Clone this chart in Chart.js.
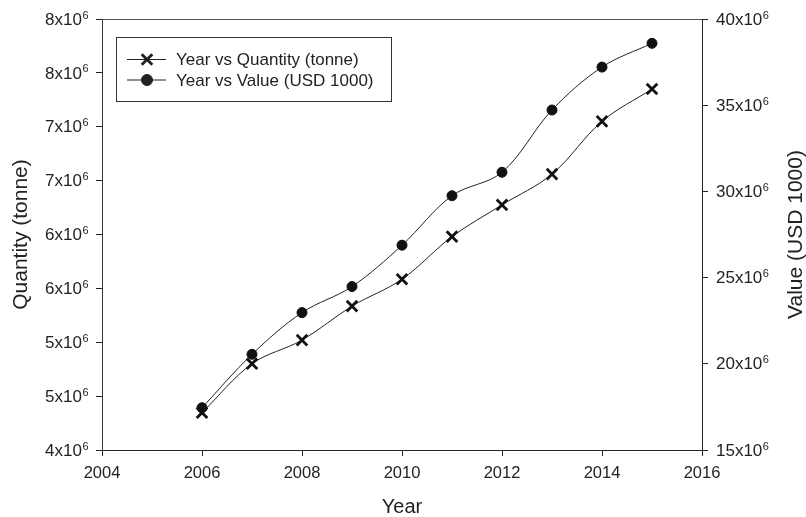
<!DOCTYPE html>
<html>
<head>
<meta charset="utf-8">
<script src="https://cdn.jsdelivr.net/npm/chart.js@4.4.1/dist/chart.umd.min.js"></script>
<style>
    html, body { margin: 0; padding: 0; background: #fff; }
    #wrap { width: 806px; height: 517px; position: relative; }
</style>
</head>
<body>
<div id="wrap"><canvas id="chart"></canvas></div>
<script>
// 数据
const years = [2006, 2007, 2008, 2009, 2010, 2011, 2012, 2013, 2014, 2015];
const quantity = [4.346e6, 4.80e6, 5.02e6, 5.335e6, 5.585e6, 5.98e6, 6.275e6, 6.56e6, 7.05e6, 7.35e6];
const value = [17.45e6, 20.55e6, 22.97e6, 24.48e6, 26.88e6, 29.75e6, 31.11e6, 34.72e6, 37.21e6, 38.59e6];

const xTickLabels = ['2004', '2006', '2008', '2010', '2012', '2014', '2016'];
// 刻度标签: 底数 + 上标指数
const leftTickLabels = ['4x10', '5x10', '5x10', '6x10', '6x10', '7x10', '7x10', '8x10', '8x10'];
const rightTickLabels = ['15x10', '20x10', '25x10', '30x10', '35x10', '40x10'];
const tickExponent = '6';

const FONT = '"Liberation Sans", Arial, sans-serif';
const INK = '#222';

// 带上标的 y 轴刻度标签
function drawSciTicks(ctx, scale, labels, side, edgeX) {
    ctx.save();
    ctx.fillStyle = INK;
    ctx.textBaseline = 'middle';
    scale.ticks.forEach((t, i) => {
        const y = scale.getPixelForTick(i);
        const base = labels[i];
        ctx.font = '17px ' + FONT;
        const bw = ctx.measureText(base).width;
        ctx.font = '11px ' + FONT;
        const sw = ctx.measureText(tickExponent).width;
        const x0 = side === 'left' ? edgeX - bw - sw : edgeX;
        ctx.font = '17px ' + FONT;
        ctx.textAlign = 'left';
        ctx.fillText(base, x0, y + 1);
        ctx.font = '11px ' + FONT;
        ctx.fillText(tickExponent, x0 + bw + 0.5, y - 3.5);
    });
    ctx.restore();
}

// 图例、右侧标题、顶部边框
const decorPlugin = {
    id: 'decor',
    afterDraw(chart) {
        const ctx = chart.ctx;
        const area = chart.chartArea;

        drawSciTicks(ctx, chart.scales.y, leftTickLabels, 'left', 88);
        drawSciTicks(ctx, chart.scales.y1, rightTickLabels, 'right', 716);

        ctx.save();
        // 顶部边框
        ctx.strokeStyle = '#555';
        ctx.lineWidth = 1;
        ctx.beginPath();
        ctx.moveTo(area.left, Math.round(area.top) + 0.5);
        ctx.lineTo(area.right, Math.round(area.top) + 0.5);
        ctx.stroke();

        // 右侧标题（自下而上）
        ctx.fillStyle = INK;
        ctx.font = '21px ' + FONT;
        ctx.textAlign = 'center';
        ctx.textBaseline = 'middle';
        ctx.translate(796, (area.top + area.bottom) / 2);
        ctx.rotate(-Math.PI / 2);
        ctx.fillText('Value (USD 1000)', 0, 0);
        ctx.restore();

        // 图例
        ctx.save();
        ctx.strokeStyle = '#333';
        ctx.lineWidth = 1;
        ctx.strokeRect(116.5, 37.5, 275, 64);
        chart.data.datasets.forEach((ds, i) => {
            const y = 59.5 + i * 20.5;
            ctx.strokeStyle = INK;
            ctx.lineWidth = 1;
            ctx.beginPath();
            ctx.moveTo(127, y);
            ctx.lineTo(166, y);
            ctx.stroke();
            ctx.fillStyle = INK;
            ctx.lineWidth = ds.pointBorderWidth;
            Chart.helpers.drawPoint(ctx, {
                pointStyle: ds.pointStyle,
                radius: ds.pointStyle === 'circle' ? 5.5 : 7.5,
                borderWidth: ds.pointBorderWidth
            }, 147, y);
            ctx.fillStyle = INK;
            ctx.font = '17px ' + FONT;
            ctx.textAlign = 'left';
            ctx.textBaseline = 'middle';
            ctx.fillText(ds.label, 176, y + 1);
        });
        ctx.restore();
    }
};

const ctx = document.getElementById('chart').getContext('2d');
new Chart(ctx, {
    type: 'line',
    data: {
        datasets: [{
            label: 'Year vs Quantity (tonne)',
            data: years.map((x, i) => ({ x: x, y: quantity[i] })),
            yAxisID: 'y',
            borderColor: INK,
            borderWidth: 1,
            backgroundColor: INK,
            pointStyle: 'crossRot',
            pointRadius: 7.5,
            pointBorderWidth: 2.8,
            pointBorderColor: '#111',
            tension: 0.35
        }, {
            label: 'Year vs Value (USD 1000)',
            data: years.map((x, i) => ({ x: x, y: value[i] })),
            yAxisID: 'y1',
            borderColor: INK,
            borderWidth: 1,
            backgroundColor: INK,
            pointStyle: 'circle',
            pointRadius: 5,
            pointBorderWidth: 1,
            pointBackgroundColor: '#111',
            pointBorderColor: '#111',
            tension: 0.35
        }]
    },
    options: {
        responsive: true,
        maintainAspectRatio: false,
        animation: false,
        layout: { padding: { top: 19, left: 0, right: 0, bottom: 0 } },
        plugins: {
            legend: { display: false },
            tooltip: { enabled: false }
        },
        scales: {
            x: {
                type: 'linear',
                min: 2004,
                max: 2016,
                ticks: {
                    stepSize: 2,
                    color: INK,
                    padding: 8,
                    font: { family: FONT, size: 16.5 },
                    callback: (v, i) => xTickLabels[i]
                },
                grid: { drawOnChartArea: false, tickLength: 6, color: INK },
                border: { color: INK, width: 1 },
                title: {
                    display: true,
                    text: 'Year',
                    color: INK,
                    font: { family: FONT, size: 20, lineHeight: 1 },
                    padding: { top: 0, bottom: 0 }
                },
                afterFit: s => { s.height = 67; }
            },
            y: {
                position: 'left',
                min: 4e6,
                max: 8e6,
                ticks: {
                    stepSize: 5e5,
                    color: 'rgba(0,0,0,0)',
                    padding: 7,
                    font: { family: FONT, size: 16 },
                    callback: (v, i) => leftTickLabels[i]
                },
                grid: { drawOnChartArea: false, tickLength: 6, color: INK },
                border: { color: '#333', width: 1 },
                title: {
                    display: true,
                    text: 'Quantity (tonne)',
                    color: INK,
                    font: { family: FONT, size: 21, lineHeight: 1.2 },
                    padding: { top: 9, bottom: 0 }
                },
                afterFit: s => { s.width = 102; }
            },
            y1: {
                position: 'right',
                min: 15e6,
                max: 40e6,
                ticks: {
                    stepSize: 5e6,
                    color: 'rgba(0,0,0,0)',
                    padding: 8,
                    font: { family: FONT, size: 16 },
                    callback: (v, i) => rightTickLabels[i]
                },
                grid: { drawOnChartArea: false, tickLength: 6, color: INK },
                border: { color: INK, width: 1 },
                afterFit: s => { s.width = 104; }
            }
        }
    },
    plugins: [decorPlugin]
});
</script>
</body>
</html>
